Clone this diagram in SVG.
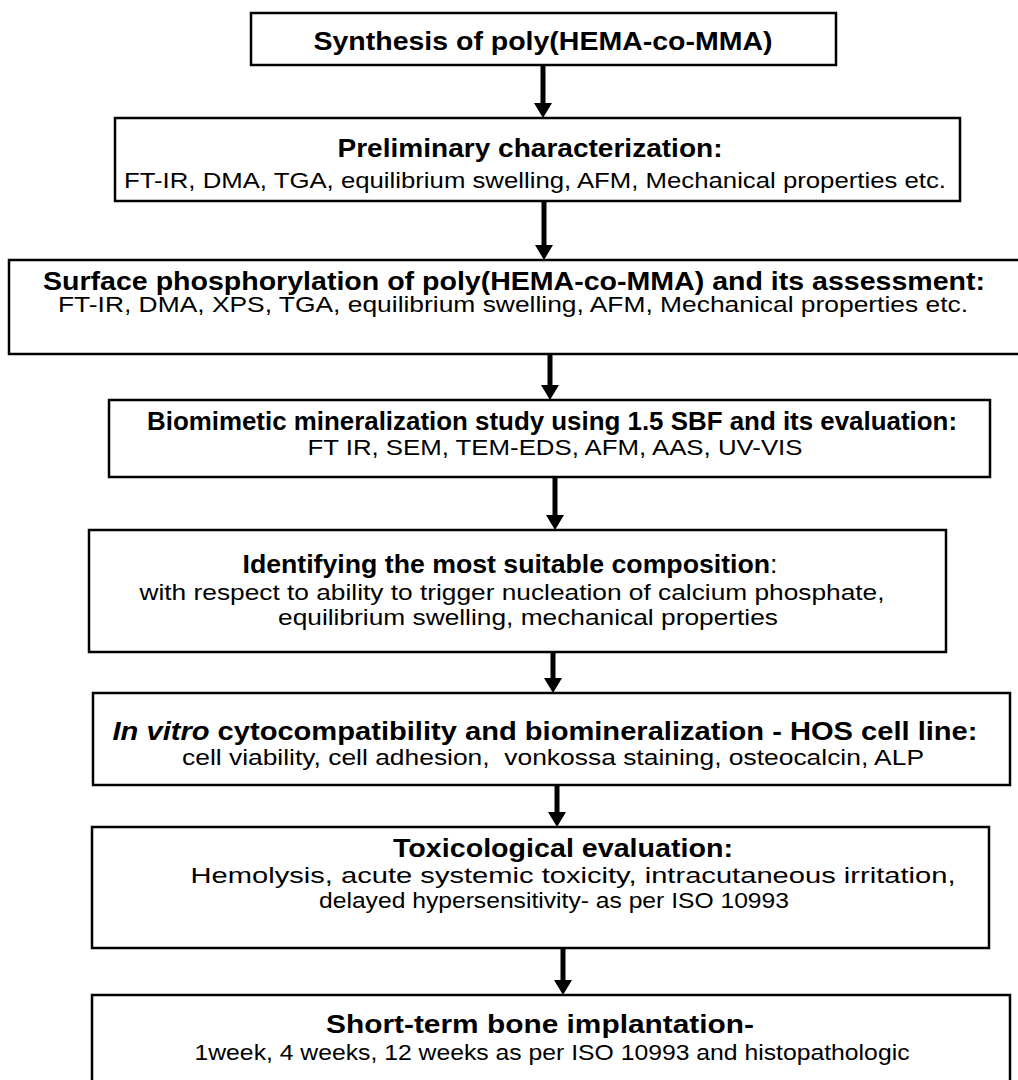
<svg xmlns="http://www.w3.org/2000/svg" width="1018" height="1080" viewBox="0 0 1018 1080">
<defs>
<style>
.box{fill:#fff;stroke:#000;stroke-width:2.5}
.h{font-family:"Liberation Sans",Arial,sans-serif;font-weight:bold;font-size:25px;fill:#000;text-anchor:middle}
.t{font-family:"Liberation Sans",Arial,sans-serif;font-size:22px;fill:#000;text-anchor:middle}
.c{stroke:#000;stroke-width:5;fill:none}
</style>
<marker id="ah" markerWidth="3" markerHeight="3.6" refX="0.3" refY="1.8" orient="auto" markerUnits="strokeWidth" viewBox="0 0 3 3.6">
<path d="M0,0 L3,1.8 L0,3.6 z" fill="#000"/>
</marker>
</defs>
<rect width="1018" height="1080" fill="#fff"/>
<g id="connectors">
<line class="c" x1="543" y1="65" x2="543" y2="104.5" marker-end="url(#ah)"/>
<line class="c" x1="544" y1="201" x2="544" y2="246.5" marker-end="url(#ah)"/>
<line class="c" x1="550" y1="354" x2="550" y2="386.5" marker-end="url(#ah)"/>
<line class="c" x1="555" y1="477" x2="555" y2="516.5" marker-end="url(#ah)"/>
<line class="c" x1="553" y1="652" x2="553" y2="679.5" marker-end="url(#ah)"/>
<line class="c" x1="557" y1="785" x2="557" y2="813.5" marker-end="url(#ah)"/>
<line class="c" x1="563" y1="948" x2="563" y2="981.5" marker-end="url(#ah)"/>
</g>
<g id="n1">
<rect class="box" x="251" y="13" width="585" height="52"/>
<text class="h" x="543" y="50" font-size="26" textLength="459" lengthAdjust="spacingAndGlyphs">Synthesis of poly(HEMA-co-MMA)</text>
</g>
<g id="n2">
<rect class="box" x="115" y="118" width="845" height="83"/>
<text class="h" x="530" y="157" font-size="26" textLength="385" lengthAdjust="spacingAndGlyphs">Preliminary characterization:</text>
<text class="t" x="535" y="188" textLength="822" lengthAdjust="spacingAndGlyphs">FT-IR, DMA, TGA, equilibrium swelling, AFM, Mechanical properties etc.</text>
</g>
<g id="n3">
<rect class="box" x="9" y="260" width="1013" height="94"/>
<text class="h" x="514" y="290" font-size="24" textLength="942" lengthAdjust="spacingAndGlyphs">Surface phosphorylation of poly(HEMA-co-MMA) and its assessment:</text>
<text class="t" x="513" y="312" textLength="910" lengthAdjust="spacingAndGlyphs">FT-IR, DMA, XPS, TGA, equilibrium swelling, AFM, Mechanical properties etc.</text>
</g>
<g id="n4">
<rect class="box" x="109" y="400" width="881" height="77"/>
<text class="h" x="552" y="430" font-size="23" textLength="810" lengthAdjust="spacingAndGlyphs">Biomimetic mineralization study using 1.5 SBF and its evaluation:</text>
<text class="t" x="555" y="455" textLength="495" lengthAdjust="spacingAndGlyphs">FT IR, SEM, TEM-EDS, AFM, AAS, UV-VIS</text>
</g>
<g id="n5">
<rect class="box" x="89" y="530" width="857" height="122"/>
<text class="h" x="510" y="573" font-size="26" textLength="535" lengthAdjust="spacingAndGlyphs">Identifying the most suitable composition<tspan font-weight="normal">:</tspan></text>
<text class="t" x="512" y="600" textLength="745" lengthAdjust="spacingAndGlyphs">with respect to ability to trigger nucleation of calcium phosphate,</text>
<text class="t" x="528" y="625" textLength="500" lengthAdjust="spacingAndGlyphs">equilibrium swelling, mechanical properties</text>
</g>
<g id="n6">
<rect class="box" x="93" y="693" width="917" height="92"/>
<text class="h" x="545" y="740" font-size="24" textLength="865" lengthAdjust="spacingAndGlyphs"><tspan font-style="italic">In vitro</tspan> cytocompatibility and biomineralization - HOS cell line:</text>
<text class="t" x="553" y="765" textLength="742" lengthAdjust="spacingAndGlyphs">cell viability, cell adhesion,&#160; vonkossa staining, osteocalcin, ALP</text>
</g>
<g id="n7">
<rect class="box" x="92" y="827" width="897" height="121"/>
<text class="h" x="563" y="857" textLength="340" lengthAdjust="spacingAndGlyphs">Toxicological evaluation:</text>
<text class="t" x="573" y="883" textLength="765" lengthAdjust="spacingAndGlyphs">Hemolysis, acute systemic toxicity, intracutaneous irritation,</text>
<text class="t" x="554" y="908" textLength="470" lengthAdjust="spacingAndGlyphs">delayed hypersensitivity- as per ISO 10993</text>
</g>
<g id="n8">
<rect class="box" x="92" y="995" width="918" height="100"/>
<text class="h" x="540" y="1033" textLength="428" lengthAdjust="spacingAndGlyphs">Short-term bone implantation-</text>
<text class="t" x="552" y="1060" textLength="715" lengthAdjust="spacingAndGlyphs">1week, 4 weeks, 12 weeks as per ISO 10993 and histopathologic</text>
</g>
</svg>
